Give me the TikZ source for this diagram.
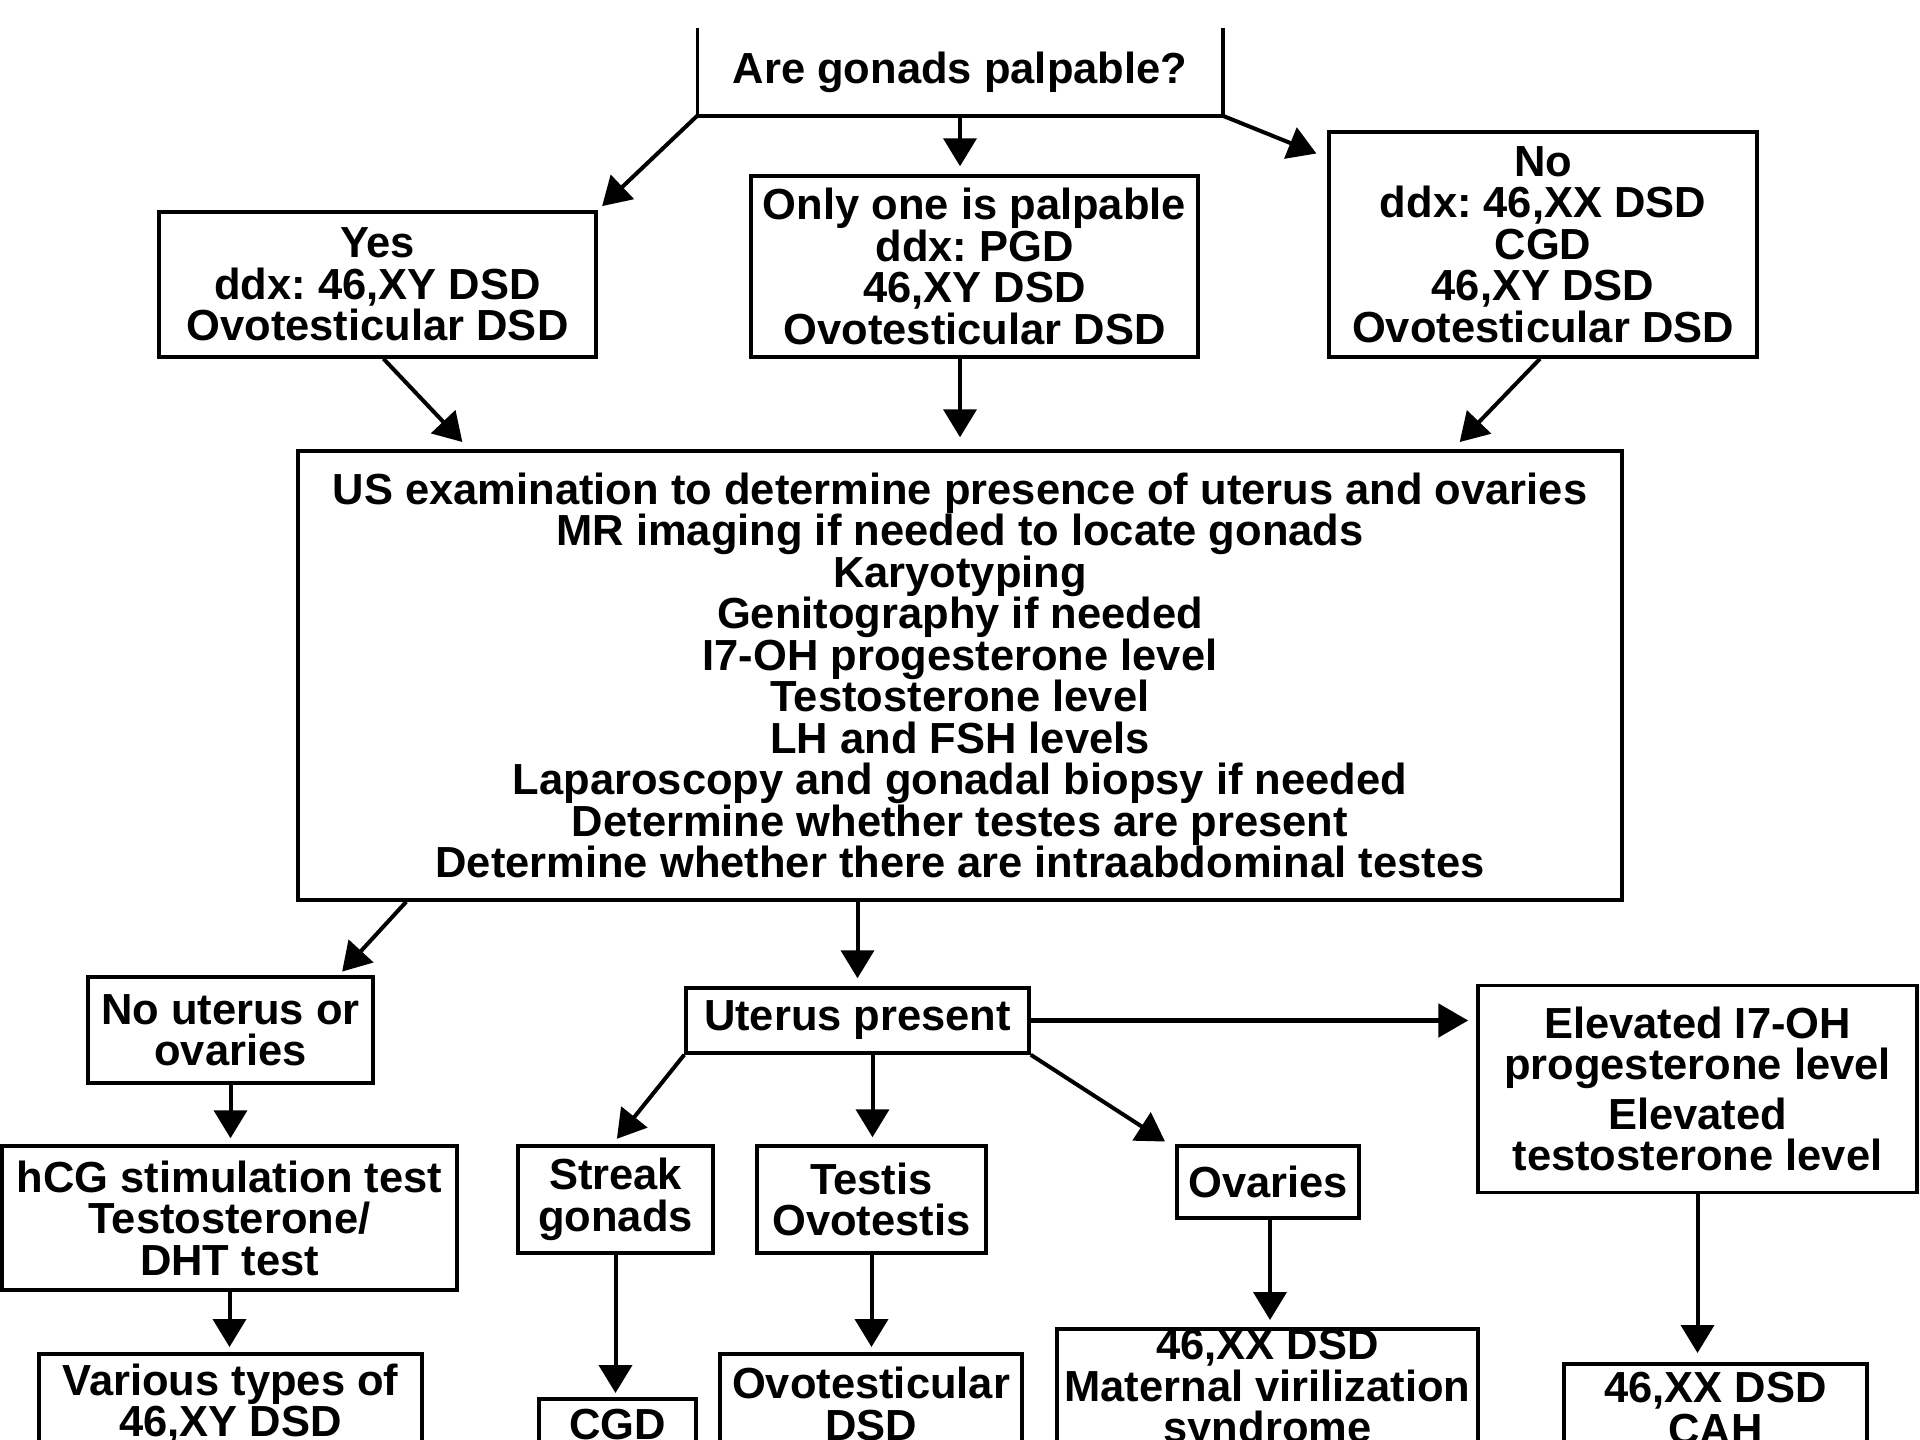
\documentclass[tikz,border=0pt]{standalone}
\usepackage{fontspec}
\setmainfont{Liberation Sans}
\usetikzlibrary{arrows.meta,calc}
\frenchspacing
\newcommand\boxfont{\bfseries\fontsize{43.5}{41.5}\selectfont}
\begin{document}
\begin{tikzpicture}[x=1pt,y=-1pt,
  box/.style={draw, line width=3.5pt, inner sep=0pt, align=center, font=\boxfont},
  arr/.style={line width=4pt, -{Triangle[length=28pt,width=33pt]}, shorten >=6pt},
  thickarr/.style={line width=5.5pt, -{Triangle[length=30pt,width=33pt]}, shorten >=8pt}]
\useasboundingbox (0,0) rectangle (1920,1440);
\fill[white] (0,0) rectangle (1920,1440);
\clip (0,0) rectangle (1920,1440);

% question box (open at the top)
\node[box, draw=none, minimum width=522pt, minimum height=84pt] (q) at (960,72) {Are gonads palpable?};
\draw[line width=3.5pt] (q.north west) -- (q.south west) -- (q.south east) -- (q.north east);

% first level
\node[box, minimum width=437pt, minimum height=145pt] (yes) at (377.5,284.5)
  {Yes\\ddx: 46,XY DSD\\Ovotesticular DSD};
\node[box, minimum width=447pt, minimum height=181pt] (one) at (974.5,266.5)
  {Only one is palpable\\ddx: PGD\\46,XY DSD\\Ovotesticular DSD};
\node[box, minimum width=428pt, minimum height=225pt] (no) at (1543,244.5)
  {No\\ddx: 46,XX DSD\\CGD\\46,XY DSD\\Ovotesticular DSD};

% examinations
\node[box, minimum width=1324pt, minimum height=449pt] (us) at (960,675.5)
  {US examination to determine presence of uterus and ovaries\\
   MR imaging if needed to locate gonads\\
   Karyotyping\\
   Genitography if needed\\
   I7-OH progesterone level\\
   Testosterone level\\
   LH and FSH levels\\
   Laparoscopy and gonadal biopsy if needed\\
   Determine whether testes are present\\
   Determine whether there are intraabdominal testes};

% second level
\node[box, minimum width=285pt, minimum height=106pt] (nou) at (230.5,1030) {No uterus or\\ovaries};
\node[box, minimum width=343pt, minimum height=65pt] (up) at (857.5,1020.5) {Uterus present};
\node[box, minimum width=439pt, minimum height=207pt] (elev) at (1697.5,1089)
  {Elevated I7-OH\\progesterone level\\[8pt]Elevated\\testosterone level};

% third level
\node[box, minimum width=455pt, minimum height=144pt] (hcg) at (229.5,1218)
  {hCG stimulation test\\Testosterone/\\DHT test};
\node[box, minimum width=195pt, minimum height=107pt] (streak) at (615.5,1199.5) {Streak\\gonads};
\node[box, minimum width=229pt, minimum height=107pt] (testis) at (871.5,1199.5) {Testis\\Ovotestis};
\node[box, minimum width=182pt, minimum height=72pt] (ovaries) at (1268,1182) {Ovaries};

% outcomes
\node[box, anchor=north, minimum width=383pt, minimum height=100pt] (various) at (230.5,1352)
  {Various types of\\46,XY DSD};
\node[box, anchor=north, minimum width=157pt, minimum height=52pt] (cgd) at (617.5,1397) {CGD};
\node[box, anchor=north, minimum width=302pt, minimum height=100pt] (ovo) at (871,1352)
  {Ovotesticular\\DSD};
\node[box, anchor=north, minimum width=421pt, minimum height=124pt] (mat) at (1267.5,1327)
  {46,XX DSD\\Maternal virilization\\syndrome};
\node[box, anchor=north, minimum width=303pt, minimum height=90pt] (cah) at (1715.5,1362)
  {46,XX DSD\\CAH};

% connectors
\draw[arr] (q.south west) -- (yes.north east);
\draw[arr, shorten >=8pt] (q.south) -- (q.south |- one.north);
\draw[arr, shorten >=2pt] (q.south east) -- ($(no.north west)+(-9,24)$);

\draw[arr, shorten >=10pt] ($(yes.south)+(6,0)$) -- ($(us.north west)+(173,0)$);
\draw[arr, shorten >=12pt] (q.south |- one.south) -- (q.south |- us.north);
\draw[arr, shorten >=10pt] ($(no.south)+(-3,0)$) -- ($(us.north east)+(-171,0)$);

\draw[arr, shorten >=5pt] ($(us.south west)+(110,0)$) -- ($(nou.north east)+(-36,0)$);
\draw[arr, shorten >=8pt] (up.north |- us.south) -- (up.north);
\draw[thickarr] (up.east) -- (up.east -| elev.west);

\draw[arr, shorten >=7pt] (up.south west) -- ($(streak.north)+(-3,0)$);
\draw[arr, shorten >=7pt] ($(testis.north |- up.south)+(1,0)$) -- ($(testis.north)+(1,0)$);
\draw[arr, shorten >=5pt] (up.south east) -- ($(ovaries.north west)+(-6,0)$);

\draw[arr] (nou.south) -- (nou.south |- hcg.north);
\draw[arr, shorten >=5pt] (hcg.south) -- (hcg.south |- various.north);
\draw[arr, shorten >=4pt] (streak.south) -- (streak.south |- cgd.north);
\draw[arr, shorten >=5pt] (testis.south) -- (testis.south |- ovo.north);
\draw[arr, shorten >=7pt] ($(ovaries.south)+(2,0)$) -- ($(ovaries.south |- mat.north)+(2,0)$);
\draw[arr, shorten >=9pt] (elev.south) -- (elev.south |- cah.north);
\end{tikzpicture}
\end{document}
